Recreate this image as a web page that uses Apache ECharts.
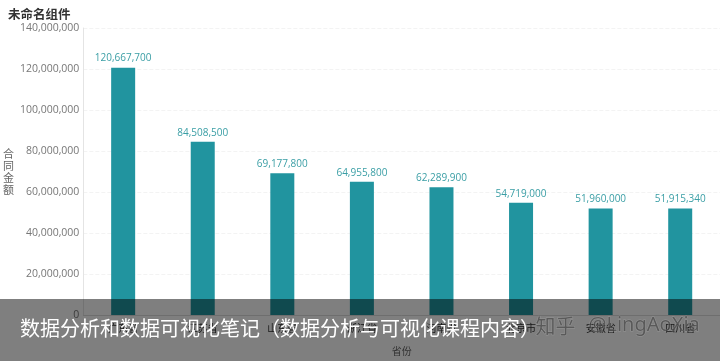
<!DOCTYPE html>
<html><head><meta charset="utf-8">
<script src="https://cdn.jsdelivr.net/npm/echarts@6/dist/echarts.min.js"></script>
<style>html,body{margin:0;padding:0;background:#fff}#c{width:720px;height:361px}</style>
</head><body><div id="c"></div>
<script>
const categories = ['广东省','江苏省','山东省','浙江省','河南省','北京市','安徽省','四川省'];
const values = [120667700, 84508500, 69177800, 64955800, 62289900, 54719000, 51960000, 51915340];
const yTicks = [0, 20000000, 40000000, 60000000, 80000000, 100000000, 120000000, 140000000];

const chart = echarts.init(document.getElementById('c'));
const fmt = v => Number(v).toLocaleString('en-US');
const numFont = '"Open Sans","Noto Sans",sans-serif';
chart.setOption({
  animation: false,
  textStyle: {fontFamily: '"Noto Sans CJK SC","Open Sans",sans-serif'},
  title: {text: '未命名组件', left: 3, top: 3,
    textStyle: {fontSize: 12.5, fontWeight: 'bold', color: '#333'}},
  grid: {left: 81.5, right: -9.5, top: 28, bottom: 39},
  xAxis: {
    type: 'category', data: categories,
    name: '省份', nameLocation: 'middle', nameGap: 31,
    nameTextStyle: {fontSize: 10, color: '#666'},
    axisLine: {lineStyle: {color: '#ddd'}}, axisTick: {show: false},
    axisLabel: {fontSize: 10, color: '#333', margin: 8}
  },
  yAxis: {
    type: 'value', min: yTicks[0], max: yTicks[yTicks.length-1], interval: 20000000,
    name: '合\n同\n金\n额', nameLocation: 'middle', nameRotate: 0, nameGap: 63,
    nameTextStyle: {fontSize: 11, color: '#666', lineHeight: 12},
    axisLine: {show: true, lineStyle: {color: '#e4e4e4'}}, axisTick: {show: false},
    axisLabel: {fontSize: 10.5, color: '#777', margin: 4, fontFamily: numFont, formatter: v => fmt(v)},
    splitLine: {lineStyle: {color: '#f3f3f3', type: 'dashed'}}
  },
  series: [{
    type: 'bar', data: values, barWidth: 24,
    itemStyle: {color: '#21949f'},
    label: {show: true, position: 'top', fontSize: 10, color: '#3a9ea5', distance: 4,
      fontFamily: numFont, formatter: p => fmt(p.value)}
  }],
  graphic: [
    {type: 'rect', left: 0, top: 299, shape: {width: 720, height: 62},
     style: {fill: 'rgba(0,0,0,0.5)'}, z: 100},
    {type: 'text', left: 20, top: 318, z: 101,
     style: {text: '数据分析和数据可视化笔记（数据分析与可视化课程内容）', fill: '#fff',
       fontSize: 20, fontFamily: '"Noto Sans CJK SC",sans-serif'}},
    {type: 'text', left: 535, top: 316, z: 101,
     style: {text: '知乎', fill: 'rgba(70,70,70,0.7)',
       stroke: 'rgba(200,200,200,0.3)', lineWidth: 1,
       fontSize: 20, fontFamily: '"Noto Sans CJK SC",sans-serif'}},
    {type: 'text', left: 588, top: 315, z: 101,
     style: {text: '@LingAoXia', fill: 'rgba(70,70,70,0.7)',
       stroke: 'rgba(200,200,200,0.3)', lineWidth: 1,
       fontSize: 20, fontFamily: '"Noto Sans",sans-serif'}}
  ]
});
</script></body></html>
